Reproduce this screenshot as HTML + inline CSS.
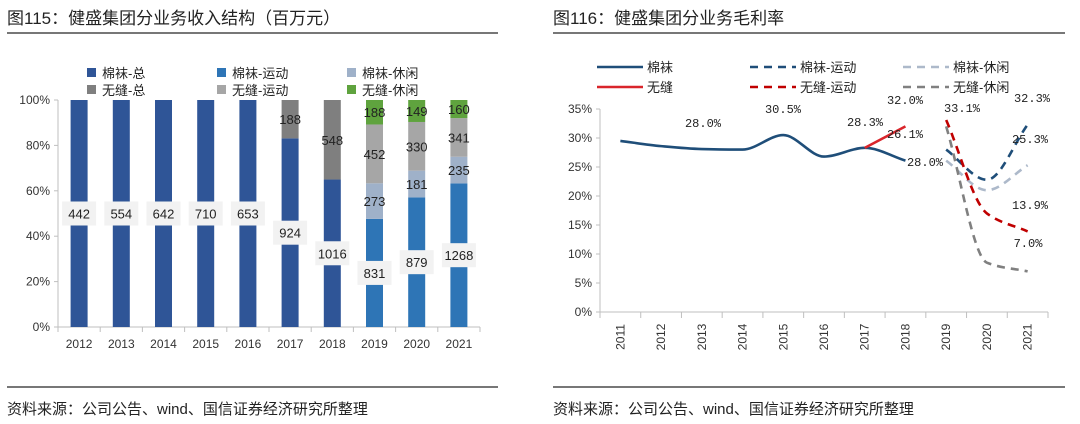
<!DOCTYPE html>
<html><head><meta charset="utf-8"><style>
body{margin:0;background:#fff;width:1080px;height:424px;overflow:hidden;font-family:"Liberation Sans","Noto Sans CJK SC",sans-serif}
svg{position:absolute;left:0;top:0}
</style></head><body>
<svg id="s" width="1080" height="424">
<g>
<text x="7" y="24" font-size="17" fill="#222">图115：健盛集团分业务收入结构（百万元）</text>
<rect x="7" y="32" width="491" height="2" fill="#777"/>
</g>
<g>
<text x="553" y="24" font-size="17" fill="#222">图116：健盛集团分业务毛利率</text>
<rect x="553" y="32" width="512" height="2" fill="#777"/>
</g>
<g>
<rect x="7" y="386" width="491" height="2" fill="#777"/>
<text x="7" y="414" font-size="15" fill="#222">资料来源：公司公告、wind、国信证券经济研究所整理</text>
<rect x="553" y="386" width="512" height="2" fill="#777"/>
<text x="553" y="414" font-size="15" fill="#222">资料来源：公司公告、wind、国信证券经济研究所整理</text>
</g>
<g id="L"></g>
<g id="R"></g>
</svg>
<script>
// ---- left chart data ----
const years = ["2012","2013","2014","2015","2016","2017","2018","2019","2020","2021"];
const cottonTotal = [442,554,642,710,653,924,1016,0,0,0];
const cottonSport = [0,0,0,0,0,0,0,831,879,1268];
const cottonCasual = [0,0,0,0,0,0,0,273,181,235];
const seamlessTotal = [0,0,0,0,0,188,548,0,0,0];
const seamlessSport = [0,0,0,0,0,0,0,452,330,341];
const seamlessCasual = [0,0,0,0,0,0,0,188,149,160];
const pctTicks = ["0%","20%","40%","60%","80%","100%"];
// ---- right chart data ----
const years2 = ["2011","2012","2013","2014","2015","2016","2017","2018","2019","2020","2021"];
const mCotton = [29.5,28.6,28.1,28.0,30.5,26.8,28.3,26.1,null,null,null];
const mSeamless = [null,null,null,null,null,null,28.3,32.0,null,null,null];
const mCottonSport = [null,null,null,null,null,null,null,null,28.0,22.8,32.3];
const mCottonCasual = [null,null,null,null,null,null,null,null,26.1,21.0,25.3];
const mSeamlessSport = [null,null,null,null,null,null,null,null,33.1,17.0,13.9];
const mSeamlessCasual = [null,null,null,null,null,null,null,null,32.0,8.5,7.0];
const rTicks = ["0%","5%","10%","15%","20%","25%","30%","35%"];

const NS="http://www.w3.org/2000/svg";
function mk(p,t,a){const e=document.createElementNS(NS,t);for(const k in a)e.setAttribute(k,a[k]);p.appendChild(e);return e;}
const L=document.getElementById('L'), R=document.getElementById('R');

// left axes
const lx0=58,lx1=480,ly0=327,ly1=100;
const bw=(lx1-lx0)/years.length;
const xL=i=>lx0+bw*(i+0.5);
const yL=p=>ly0-(ly0-ly1)*p;
mk(L,'line',{x1:lx0,y1:ly1,x2:lx0,y2:ly0,stroke:'#bfbfbf'});
mk(L,'line',{x1:lx0,y1:ly0,x2:lx1,y2:ly0,stroke:'#bfbfbf'});
pctTicks.forEach((t,i)=>{
 const y=yL(i/(pctTicks.length-1));
 const e=mk(L,'text',{x:lx0-8,y:y+4,'font-size':12,'text-anchor':'end',fill:'#333'});e.textContent=t;
 
 
 mk(L,'line',{x1:lx0-4,y1:y,x2:lx0,y2:y,stroke:'#bfbfbf'});
});
for(let i=0;i<=years.length;i++){mk(L,'line',{x1:lx0+bw*i,y1:ly0,x2:lx0+bw*i,y2:ly0+5,stroke:'#bfbfbf'});}
years.forEach((y,i)=>{const e=mk(L,'text',{x:xL(i),y:ly0+21,'font-size':12,'text-anchor':'middle',fill:'#333'});e.textContent=y;
 
 });
const stacks=[
 [cottonTotal,'#2f5597','cotton-total',true],
 [cottonSport,'#2e75b6','cotton-sport',true],
 [cottonCasual,'#9fb1c9','cotton-casual',false],
 [seamlessTotal,'#7f7f7f','seamless-total',false],
 [seamlessSport,'#a6a6a6','seamless-sport',false],
 [seamlessCasual,'#5fa33e','seamless-casual',false]];
years.forEach((yr,i)=>{
 let tot=0;stacks.forEach(s=>tot+=s[0][i]);
 let acc=0;
 stacks.forEach(s=>{
  const v=s[0][i];if(!v)return;
  const p0=acc/tot,p1=(acc+v)/tot;acc+=v;
  const r=mk(L,'rect',{x:xL(i)-8.5,y:yL(p1),width:17,height:yL(p0)-yL(p1),fill:s[1]});
  
  
  const cy=yL((p0+p1)/2);
  if(s[3]){mk(L,'rect',{x:xL(i)-17,y:cy-12,width:34,height:24,fill:'#f2f2f2'});}
  const t=mk(L,'text',{x:xL(i),y:cy+5,'font-size':13,'text-anchor':'middle',fill:'#222'});t.textContent=v;
  
  
 });
});
const legL=[['棉袜-总','#2f5597',92,73],['棉袜-运动','#2e75b6',222,73],['棉袜-休闲','#9fb1c9',352,73],['无缝-总','#7f7f7f',92,90],['无缝-运动','#a6a6a6',222,90],['无缝-休闲','#5fa33e',352,90]];
legL.forEach(l=>{const g=mk(L,'g',{});
 
 
 mk(g,'rect',{x:l[2]-5,y:l[3]-5,width:9,height:9,fill:l[1]});
 const t=mk(g,'text',{x:l[2]+10,y:l[3]+5,'font-size':13,fill:'#222'});t.textContent=l[0];});

// right axes
const rx0=600,rx1=1048,ry0=312,ry1=109;
const cw=(rx1-rx0)/years2.length;
const xR=i=>rx0+cw*(i+0.5);
const yR=v=>ry0-(ry0-ry1)*v/35;
mk(R,'line',{x1:rx0,y1:ry1,x2:rx0,y2:ry0,stroke:'#bfbfbf'});
mk(R,'line',{x1:rx0,y1:ry0,x2:rx1,y2:ry0,stroke:'#bfbfbf'});
rTicks.forEach((t,i)=>{const v=i*5,y=yR(v);
 mk(R,'line',{x1:rx0-4,y1:y,x2:rx0,y2:y,stroke:'#bfbfbf'});
 const e=mk(R,'text',{x:rx0-8,y:y+4,'font-size':12,'text-anchor':'end',fill:'#333'});e.textContent=t;
 
 });
for(let i=0;i<=years2.length;i++){mk(R,'line',{x1:rx0+cw*i,y1:ry0,x2:rx0+cw*i,y2:ry0+6,stroke:'#bfbfbf'});}
years2.forEach((y,i)=>{const e=mk(R,'text',{x:0,y:0,'font-size':12,'text-anchor':'middle',fill:'#333',transform:`translate(${xR(i)+4},337) rotate(-90)`});e.textContent=y;
 
 });
// monotone cubic interpolation (harmonic-mean slopes, no overshoot)
function smooth(arr){
 const pts=[];arr.forEach((v,i)=>{if(v!=null)pts.push([xR(i),yR(v)]);});
 const n=pts.length,dl=[],m=[];
 for(let i=0;i<n-1;i++)dl.push((pts[i+1][1]-pts[i][1])/(pts[i+1][0]-pts[i][0]));
 for(let i=0;i<n;i++){
  if(i===0)m.push(dl[0]);else if(i===n-1)m.push(dl[n-2]);
  else m.push(dl[i-1]*dl[i]<=0?0:2/(1/dl[i-1]+1/dl[i]));
 }
 let d='M'+pts[0][0]+','+pts[0][1];
 for(let i=0;i<n-1;i++){
  const h=(pts[i+1][0]-pts[i][0])/3;
  d+=` C${pts[i][0]+h},${pts[i][1]+m[i]*h} ${pts[i+1][0]-h},${pts[i+1][1]-m[i+1]*h} ${pts[i+1][0]},${pts[i+1][1]}`;
 }
 return d;
}
const series=[
 [mCotton,'#1f4e79','','line-cotton','棉袜',597,67],
 [mSeamless,'#d9252b','','line-seamless','无缝',597,87],
 [mCottonSport,'#1f4e79','8,6','line-cotton-sport','棉袜-运动',750,67],
 [mCottonCasual,'#adb9ca','8,6','line-cotton-casual','棉袜-休闲',903,67],
 [mSeamlessSport,'#c00000','8,6','line-seamless-sport','无缝-运动',750,87],
 [mSeamlessCasual,'#808080','8,6','line-seamless-casual','无缝-休闲',903,87]];
series.forEach(s=>{
 const p=mk(R,'path',{d:smooth(s[0]),fill:'none',stroke:s[1],'stroke-width':2.6,'stroke-dasharray':s[2]});
 
 
 const g=mk(R,'g',{});
 
 
 mk(g,'line',{x1:s[5],y1:s[6],x2:s[5]+46,y2:s[6],stroke:s[1],'stroke-width':2.6,'stroke-dasharray':s[2]});
 const t=mk(g,'text',{x:s[5]+50,y:s[6]+5,'font-size':13,fill:'#222'});t.textContent=s[4];
});
const rl=[['32.0%',905,104],['33.1%',962,112],['32.3%',1032,102],['28.0%',703,127],['30.5%',783,113],['28.3%',865,126],['26.1%',905,138],['28.0%',925,166],['25.3%',1030,143],['13.9%',1030,209],['7.0%',1028,247]];
rl.forEach(l=>{const t=mk(R,'text',{x:l[1],y:l[2],'font-size':12,'text-anchor':'middle',fill:'#222','font-family':'Liberation Mono, monospace'});t.textContent=l[0];
 
 });
</script>
</body></html>
